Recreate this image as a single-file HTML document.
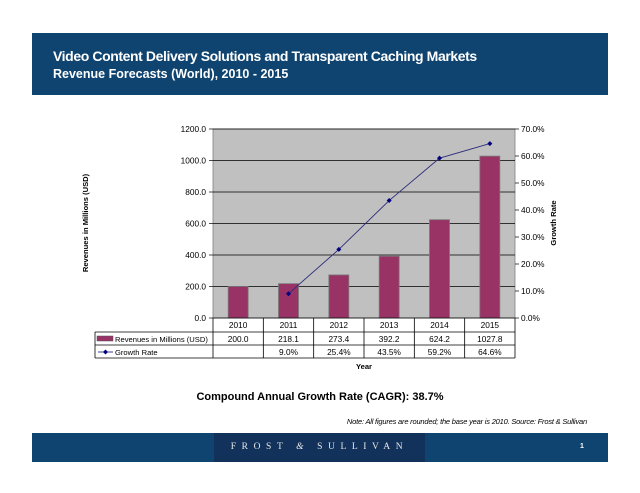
<!DOCTYPE html>
<html><head><meta charset="utf-8"><style>
body{margin:0;width:640px;height:493px;background:#fff;position:relative;overflow:hidden;font-family:"Liberation Sans",sans-serif}
.abs{position:absolute}
</style></head><body>
<div class="abs" style="left:32px;top:33px;width:576px;height:62px;background:#0f4370"></div>
<div class="abs" style="left:53px;top:48px;color:#fff;font-weight:bold;font-size:14px;letter-spacing:-0.4px">Video Content Delivery Solutions and Transparent Caching Markets</div>
<div class="abs" style="left:53px;top:67px;color:#fff;font-weight:bold;font-size:12.5px;letter-spacing:0px">Revenue Forecasts (World), 2010 - 2015</div>

<svg class="abs" style="left:0;top:0" width="640" height="493" font-family="Liberation Sans, sans-serif" font-size="8.3">
<g id="g"></g>
</svg>

<div class="abs" style="left:0;width:640px;text-align:center;top:391px;font-weight:bold;font-size:11px">Compound Annual Growth Rate (CAGR): 38.7%</div>
<div class="abs" style="right:53px;top:417px;font-style:italic;font-size:7.5px;letter-spacing:-0.2px">Note: All figures are rounded; the base year is 2010. Source: Frost &amp; Sullivan</div>
<div class="abs" style="left:32px;top:433px;width:576px;height:29px;background:#0f4370"></div>
<div class="abs" style="left:214px;top:433px;width:211px;height:29px;background:#13325b;color:#e8e8e8;font-family:'Liberation Serif',serif;font-size:9.5px;letter-spacing:5.6px;text-align:center;line-height:29px">FROST <i>&amp;</i> SULLIVAN</div>
<div class="abs" style="left:580px;top:443px;color:#fff;font-size:7px;font-weight:bold">1</div>

<script>
const years=["2010","2011","2012","2013","2014","2015"];
const revenue=[200.0,218.1,273.4,392.2,624.2,1027.8];
const growth=[null,9.0,25.4,43.5,59.2,64.6];
const leftTicks=[0,200,400,600,800,1000,1200];
const rightTicks=[0,10,20,30,40,50,60,70];
const NS="http://www.w3.org/2000/svg";
const g=document.getElementById('g');
const X0=213,X1=515,Y0=318,Y1=129;
const cw=(X1-X0)/years.length;
const yL=v=>Y0-(v/1200)*(Y0-Y1);
const yR=v=>Y0-(v/70)*(Y0-Y1);
const xC=i=>X0+cw*(i+0.5);
function el(t,a,txt){const e=document.createElementNS(NS,t);for(const k in a)e.setAttribute(k,a[k]);if(txt!=null)e.textContent=txt;g.appendChild(e);return e;}
let e=el('rect',{x:X0,y:Y1,width:X1-X0,height:Y0-Y1,fill:'#c0c0c0',stroke:'#808080','stroke-width':0.8});

leftTicks.forEach(v=>{const y=yL(v);
 if(v>0){e=el('line',{x1:X0,x2:X1,y1:y,y2:y,stroke:'#000','stroke-width':0.7});}
 e=el('line',{x1:X0-4,x2:X0,y1:y,y2:y,stroke:'#000','stroke-width':0.7});
 e=el('text',{x:X0-7,y:y+3,'text-anchor':'end'},v.toFixed(1));});
rightTicks.forEach(v=>{const y=yR(v);
 el('line',{x1:X1,x2:X1+4,y1:y,y2:y,stroke:'#000','stroke-width':0.7});
 e=el('text',{x:X1+6,y:y+3},v.toFixed(1)+'%');});
revenue.forEach((v,i)=>{const bw=20;
 e=el('rect',{x:xC(i)-bw/2,y:yL(v),width:bw,height:Y0-yL(v),fill:'#993366',stroke:'#7a7a7a','stroke-width':0.8});
 });
let pts=[];growth.forEach((v,i)=>{if(v!=null)pts.push(xC(i)+','+yR(v));});
e=el('polyline',{points:pts.join(' '),fill:'none',stroke:'#2b2b7a','stroke-width':0.9});

growth.forEach((v,i)=>{if(v==null)return;const x=xC(i),y=yR(v);
 e=el('polygon',{points:`${x},${y-2.5} ${x+2.5},${y} ${x},${y+2.5} ${x-2.5},${y}`,fill:'#000080'});
 });
const T0=318,R1=332,R2=345,R3=358,TL=95;
el('line',{x1:X0,x2:X1,y1:T0,y2:T0,stroke:'#000','stroke-width':0.8});
[R1,R2,R3].forEach(y=>el('line',{x1:TL,x2:X1,y1:y,y2:y,stroke:'#000','stroke-width':0.8}));
el('line',{x1:TL,x2:TL,y1:R1,y2:R3,stroke:'#000','stroke-width':0.8});
for(let i=0;i<=years.length;i++)el('line',{x1:X0+cw*i,x2:X0+cw*i,y1:T0,y2:R3,stroke:'#000','stroke-width':0.8});
years.forEach((yv,i)=>{
 e=el('text',{x:xC(i),y:T0+10,'text-anchor':'middle'},yv);
 e=el('text',{x:xC(i),y:R1+10,'text-anchor':'middle'},revenue[i].toFixed(1));
 if(growth[i]!=null){e=el('text',{x:xC(i),y:R2+10,'text-anchor':'middle'},growth[i].toFixed(1)+'%');}
});
e=el('rect',{x:97,y:R1+4,width:16,height:5,fill:'#993366',stroke:'#555','stroke-width':0.5});
e=el('text',{x:115,y:R1+10,'font-size':7.6},'Revenues in Millions (USD)');
el('line',{x1:98,x2:113,y1:R2+7,y2:R2+7,stroke:'#2b2b7a','stroke-width':0.9});
el('polygon',{points:`105.5,${R2+4.5} 108,${R2+7} 105.5,${R2+9.5} 103,${R2+7}`,fill:'#000080'});
e=el('text',{x:115,y:R2+10,'font-size':7.6},'Growth Rate');
e=el('text',{x:364,y:369,'text-anchor':'middle','font-weight':'bold','font-size':7.6},'Year');
e=el('text',{x:0,y:0,'text-anchor':'middle','font-weight':'bold','font-size':7.6,transform:'translate(88,223) rotate(-90)'},'Revenues in Millions (USD)');
e=el('text',{x:0,y:0,'text-anchor':'middle','font-weight':'bold','font-size':7.6,transform:'translate(556,223) rotate(-90)'},'Growth Rate');
</script>
</body></html>
